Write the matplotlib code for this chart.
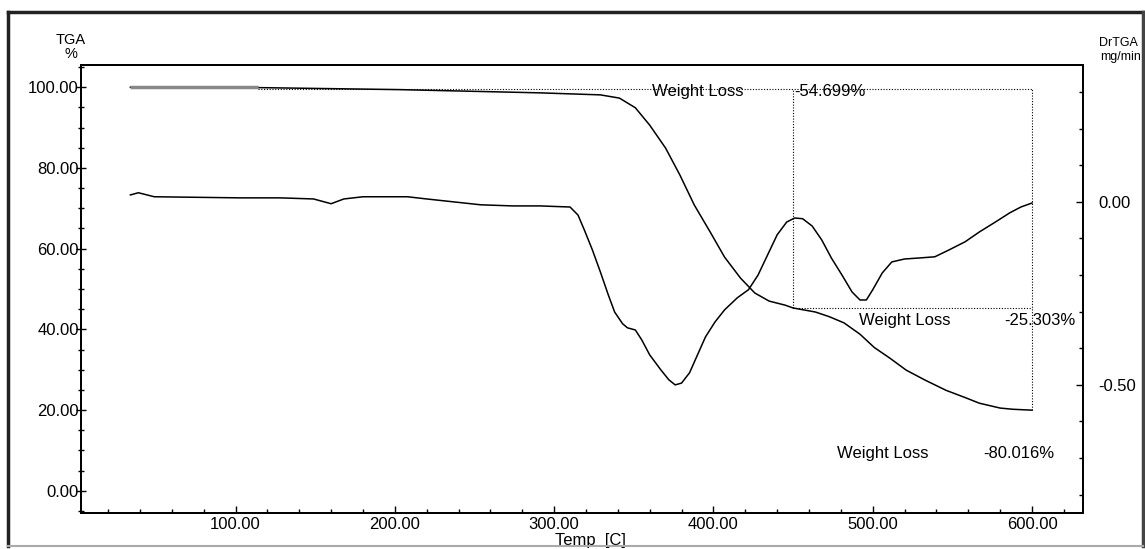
import numpy as np
import matplotlib.pyplot as plt
from matplotlib.ticker import MultipleLocator, FormatStrFormatter
from matplotlib.lines import Line2D

plt.rcParams['font.family'] = ['Liberation Sans', 'DejaVu Sans']

# TGA curve (weight %)
tga_temp = [34, 114, 203, 291, 329, 341, 351, 360, 370, 379, 388, 398, 407, 417,
            426, 435, 445, 450, 464, 473, 482, 492, 501, 511, 521, 533, 546, 558,
            567, 580, 588, 600]
tga_pct = [100.0, 99.9, 99.4, 98.6, 98.1, 97.3, 94.9, 90.6, 84.9, 78.2, 70.8, 64.1,
           57.9, 52.7, 49.0, 47.0, 46.0, 45.3, 44.3, 43.1, 41.6, 38.8, 35.5, 32.8,
           29.9, 27.4, 24.9, 23.1, 21.7, 20.5, 20.2, 19.98]

# DrTGA curve (mg/min)
dtg_temp = [34, 39, 49, 103, 128, 149, 160, 168, 180, 208, 220, 237, 254, 274, 291,
            310, 315, 319, 324, 329, 334, 338, 343, 346, 351, 355, 360, 367, 372,
            376, 380, 385, 390, 395, 401, 407, 415, 422, 428, 434, 440, 446, 451,
            456, 462, 468, 474, 481, 487, 492, 496, 500, 506, 512, 520, 530, 539,
            548, 558, 567, 577, 586, 593, 600]
dtg_val = [0.019, 0.025, 0.014, 0.011, 0.011, 0.008, -0.005, 0.008, 0.014, 0.014,
           0.008, 0.0, -0.008, -0.011, -0.011, -0.014, -0.036, -0.077, -0.131,
           -0.191, -0.254, -0.301, -0.333, -0.344, -0.350, -0.377, -0.418, -0.459,
           -0.486, -0.500, -0.495, -0.467, -0.418, -0.369, -0.328, -0.295, -0.262,
           -0.240, -0.200, -0.145, -0.090, -0.055, -0.044, -0.046, -0.066, -0.104,
           -0.153, -0.202, -0.246, -0.268, -0.268, -0.240, -0.194, -0.164, -0.156,
           -0.153, -0.150, -0.131, -0.109, -0.082, -0.055, -0.030, -0.014, -0.003]

# weight loss steps
step_temp = [450, 600]
step_level = [45.3, 19.98]
loss_labels = ["-54.699%", "-25.303%", "-80.016%"]

W, H = 1145, 549
fig = plt.figure(figsize=(W / 100, H / 100), dpi=100)

# scanned page frame
def fline(x0, y0, x1, y1, **kw):
    fig.lines.append(Line2D([x0 / W, x1 / W], [1 - y0 / H, 1 - y1 / H],
                            transform=fig.transFigure, **kw))

fline(8, 12, 1143, 12, color='#222222', lw=2.5)
fline(8, 12, 8, 546, color='#222222', lw=2.5)
fline(1143, 12, 1143, 546, color='#444444', lw=2.5)
fline(8, 546, 1143, 546, color='#aaaaaa', lw=1.5)

ax = fig.add_axes([81 / W, 1 - 513 / H, 1002 / W, 448 / H])
ax2 = ax.twinx()

dots = (0, (1, 1.5))
ax.plot(tga_temp, tga_pct, color='black', lw=1.1)
ax.hlines(100, 34, 114, color='#888888', lw=2.5)
ax.hlines(99.5, 114, 600, color='black', lw=0.8, linestyles=dots)
ax.vlines(step_temp[0], step_level[0], 99.5, color='black', lw=0.8, linestyles=dots)
ax.vlines(step_temp[1], step_level[1], 99.5, color='black', lw=0.8, linestyles=dots)
ax.hlines(step_level[0], step_temp[0], step_temp[1], color='black', lw=0.8,
          linestyles=dots)

ax2.plot(dtg_temp, dtg_val, color='black', lw=1.1)

ax.set_xlim(3, 632)
ax.set_ylim(-5.5, 105.5)
ax2.set_ylim(-0.85, 0.374)

ax.xaxis.set_major_locator(MultipleLocator(100))
ax.xaxis.set_minor_locator(MultipleLocator(20))
ax.xaxis.set_major_formatter(FormatStrFormatter('%.2f'))
ax.yaxis.set_major_locator(MultipleLocator(20))
ax.yaxis.set_minor_locator(MultipleLocator(5))
ax.yaxis.set_major_formatter(FormatStrFormatter('%.2f'))
ax2.yaxis.set_major_locator(MultipleLocator(0.5))
ax2.yaxis.set_minor_locator(MultipleLocator(0.1))
ax2.yaxis.set_major_formatter(FormatStrFormatter('%.2f'))

for a in (ax, ax2):
    a.tick_params(which='major', length=5, width=1, labelsize=12, pad=1)
    a.tick_params(which='minor', length=3, width=1)
    for s in a.spines.values():
        s.set_linewidth(1.3)
ax.tick_params(axis='x', which='both', direction='in', pad=3)
ax.tick_params(axis='y', which='major', direction='inout', length=7, pad=-2)
ax.tick_params(axis='y', which='minor', direction='inout', length=4)
ax2.tick_params(axis='y', which='both', direction='in', pad=11)

ax.set_xlabel("Temp  [C]", fontsize=12, labelpad=0)
ax.xaxis.set_label_coords((590 - 81) / 1002, -0.045)
fig.text(71 / W, 1 - 47 / H, "TGA\n%", ha='center', va='center', fontsize=10.5,
         linespacing=1.0)
fig.text(1118 / W, 1 - 43 / H, "DrTGA", ha='center', va='center', fontsize=9)
fig.text(1121 / W, 1 - 57 / H, "mg/min", ha='center', va='center', fontsize=9)

fs = 12
ax.text(390, 99, "Weight Loss", ha='center', va='center', fontsize=fs)
ax.text(451, 99, loss_labels[0], ha='left', va='center', fontsize=fs)
ax.text(520, 42.1, "Weight Loss", ha='center', va='center', fontsize=fs)
ax.text(627, 42.1, loss_labels[1], ha='right', va='center', fontsize=fs)
ax.text(506, 9.3, "Weight Loss", ha='center', va='center', fontsize=fs)
ax.text(614, 9.3, loss_labels[2], ha='right', va='center', fontsize=fs)

fig.savefig("out.png", dpi=100)
